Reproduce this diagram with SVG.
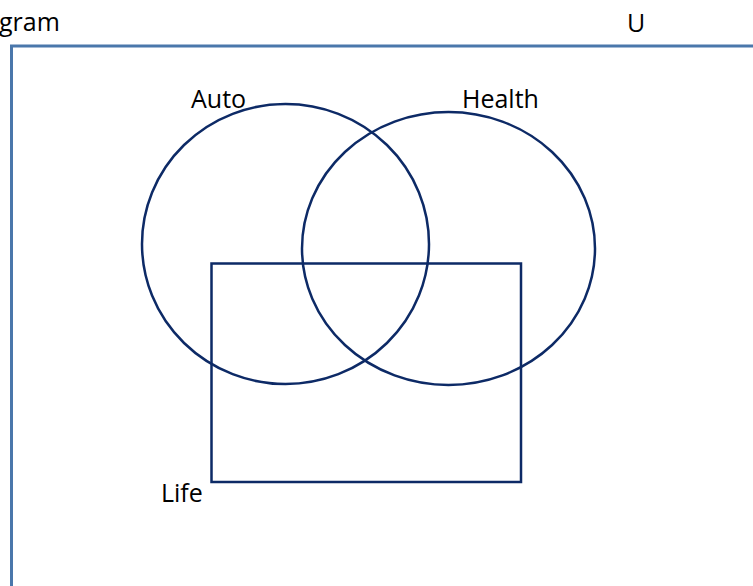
<svg xmlns="http://www.w3.org/2000/svg" width="753" height="586" viewBox="0 0 753 586">
<style>
.t{font-family:"Open Sans","Liberation Sans",sans-serif;font-size:25px;fill:#000}
.s{fill:none;stroke:#0d2a66;stroke-width:2.5}
.f{fill:none;stroke:#4a77ab;stroke-width:3}
</style>
<rect width="753" height="586" fill="#fff"/>
<g id="frame">
<path class="f" d="M11.5,590 V46 H760"/>
<text class="t" x="-1" y="31">gram</text>
<text class="t" x="627" y="32">U</text>
</g>
<g id="auto">
<ellipse class="s" cx="285.5" cy="244" rx="143.5" ry="140"/>
<text class="t" x="191" y="108">Auto</text>
</g>
<g id="health">
<ellipse class="s" cx="448.5" cy="248.5" rx="146.5" ry="136.5"/>
<text class="t" x="462" y="108">Health</text>
</g>
<g id="life">
<rect class="s" x="211.5" y="263.5" width="309.5" height="218.5"/>
<text class="t" x="161" y="502">Life</text>
</g>
<g id="connectors"></g>
</svg>
